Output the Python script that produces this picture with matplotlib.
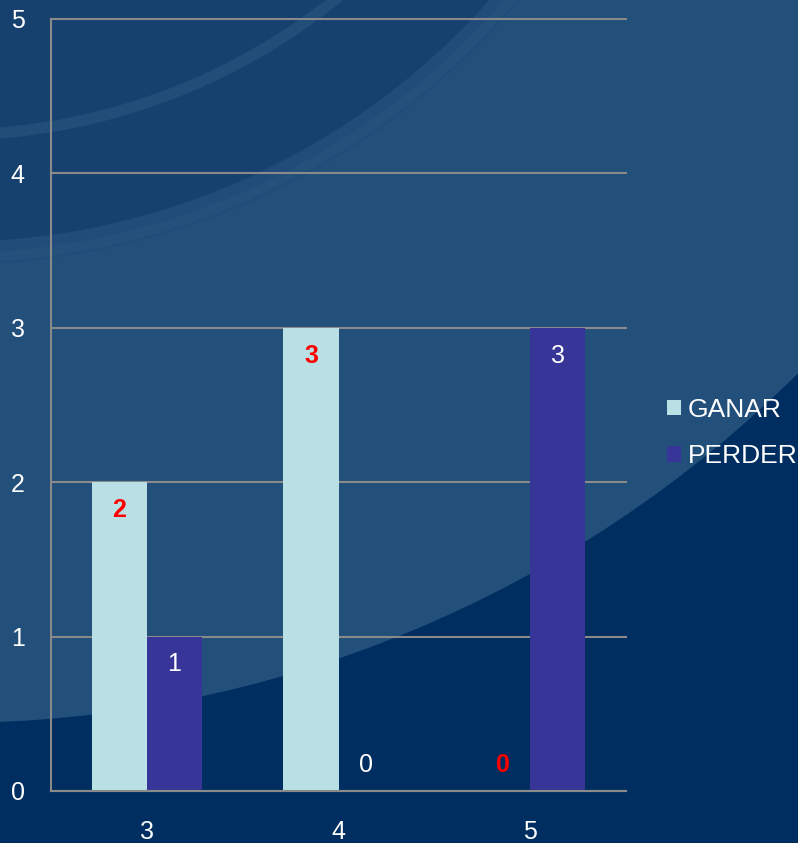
import matplotlib
matplotlib.use("Agg")
import matplotlib.pyplot as plt
from matplotlib.patches import Circle
import numpy as np

plt.rcParams['font.family'] = ['Liberation Sans', 'DejaVu Sans']

categories = ["3", "4", "5"]
ganar = [2, 3, 0]
perder = [1, 0, 3]
series_names = ["GANAR", "PERDER"]
yticks = [0, 1, 2, 3, 4, 5]

W, H = 798, 843
fig = plt.figure(figsize=(W / 100, H / 100), dpi=100)
fig.patch.set_facecolor("#002e60")

# decorative background (pixel coordinates)
bg = fig.add_axes([0, 0, 1, 1])
bg.set_xlim(0, W)
bg.set_ylim(H, 0)
bg.axis("off")
c = (-50, -480)
bg.add_patch(Circle(c, 1203, color="#234f7b", lw=0))
bg.add_patch(Circle(c, 745, color="#214c79", lw=0))
bg.add_patch(Circle(c, 722, color="#16416f", lw=0))
bg.add_patch(Circle(c, 738, fill=False, ec="#28547f", lw=7, alpha=0.5))
bg.add_patch(Circle(c, 615, fill=False, ec="#234f7b", lw=8, alpha=0.9))

ax = fig.add_axes([51 / W, (H - 791) / H, 575 / W, 772 / H])
ax.set_facecolor("none")
x = np.arange(len(categories))
bw = 0.287
b1 = ax.bar(x - bw / 2, ganar, bw, color="#b9e0e4", label=series_names[0], zorder=3)
b2 = ax.bar(x + bw / 2, perder, bw, color="#373597", label=series_names[1], zorder=3)

ax.set_xlim(-0.5, len(categories) - 0.5)
ax.set_ylim(0, 5)
ax.set_yticks(yticks)
ax.set_xticks(x)
ax.set_xticklabels(categories)
ax.yaxis.grid(True, color="#8a8a8a", lw=1.5, zorder=1)
for gl in ax.get_ygridlines():
    gl.set_clip_on(False)
ax.set_axisbelow(True)
for s in ["top", "right"]:
    ax.spines[s].set_visible(False)
for s in ["left", "bottom"]:
    ax.spines[s].set_color("#8a8a8a")
    ax.spines[s].set_linewidth(1.5)
    ax.spines[s].set_zorder(4)
ax.tick_params(axis="y", length=0, pad=19, labelsize=18, labelcolor="white")
ax.tick_params(axis="x", length=0, pad=21, labelsize=18, labelcolor="white")

for xi, v in zip(x, ganar):
    off = -20 if v > 0 else 19
    ax.annotate(str(v), (xi - bw / 2, v), xytext=(0, off), textcoords="offset points",
                ha="center", va="center", color="#ff0000", fontsize=18,
                fontweight="bold", zorder=5)
for xi, v in zip(x, perder):
    off = -20 if v > 0 else 19
    ax.annotate(str(v), (xi + bw / 2, v), xytext=(0, off), textcoords="offset points",
                ha="center", va="center", color="white", fontsize=18, zorder=5)

fig.legend(handles=[b1, b2], loc="center left",
           bbox_to_anchor=(667 / W, (H - 433) / H), frameon=False,
           fontsize=19, labelcolor="white", handlelength=0.53, handleheight=0.53,
           handletextpad=0.25, borderpad=0, borderaxespad=0, labelspacing=0.85)

fig.savefig("out.png", dpi=100, facecolor=fig.get_facecolor())
